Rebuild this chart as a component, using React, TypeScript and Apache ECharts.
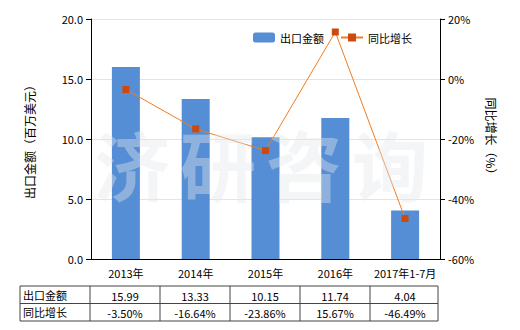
import React, { useEffect, useRef } from "react";
import * as echarts from "echarts";

const categories = ["2013年", "2014年", "2015年", "2016年", "2017年1-7月"];
const exportValues = [15.99, 13.33, 10.15, 11.74, 4.04];
const growthValues = [-3.5, -16.64, -23.86, 15.67, -46.49];
const seriesNames = ["出口金额", "同比增长"];
const leftAxisName = "出口金额（百万美元）";
const rightAxisName = "同比增长（%）";
const watermark = ["济", "研", "咨", "询"];

const FONT = "'Noto Sans CJK SC', 'Noto Sans', sans-serif";

export default function App() {
  const ref = useRef<HTMLDivElement>(null);
  useEffect(() => {
    if (!ref.current) return;
    const chart = echarts.init(ref.current, null, { renderer: "svg" });

    const gridLeft = 91;
    const gridRight = 440;
    const tableLeft = 20;
    const firstColRight = 90;
    const colW = (gridRight - firstColRight) / categories.length;
    const rowTop = 286;
    const rowH = 17.5;

    const tableEls: any[] = [];
    const stroke = { stroke: "#444", lineWidth: 1 };
    for (let r = 0; r <= 2; r++) {
      tableEls.push({
        type: "line",
        shape: { x1: tableLeft, y1: rowTop + r * rowH, x2: gridRight - 2, y2: rowTop + r * rowH },
        style: stroke,
      });
    }
    const vx = [tableLeft, firstColRight];
    for (let i = 1; i <= categories.length; i++) vx.push(Math.round(firstColRight + i * colW) - (i === categories.length ? 2 : 0));
    vx.forEach((x) =>
      tableEls.push({
        type: "line",
        shape: { x1: x, y1: rowTop, x2: x, y2: rowTop + 2 * rowH },
        style: stroke,
      })
    );
    const rows = [
      exportValues.map((v) => v.toFixed(2)),
      growthValues.map((v) => v.toFixed(2) + "%"),
    ];
    rows.forEach((row, r) => {
      const cy = rowTop + r * rowH + rowH / 2;
      tableEls.push({
        type: "text",
        x: tableLeft + 3,
        y: cy,
        style: { text: seriesNames[r], fill: "#000", font: `11px ${FONT}`, textVerticalAlign: "middle", verticalAlign: "middle" },
      });
      row.forEach((t, i) => {
        tableEls.push({
          type: "text",
          x: firstColRight + colW * (i + 0.5),
          y: cy + 1,
          style: { text: t, fill: "#000", font: `11px ${FONT}`, align: "center", verticalAlign: "middle", textAlign: "center", textVerticalAlign: "middle" },
        });
      });
    });

    const wmEls = watermark.map((ch, i) => ({
      type: "text",
      x: 132 + i * 86,
      y: 163,
      z: 100,
      style: {
        text: ch,
        fill: "rgba(228,230,234,0.4)",
        font: `bold 76px ${FONT}`,
        align: "center",
        verticalAlign: "middle",
        textAlign: "center",
        textVerticalAlign: "middle",
      },
    }));

    chart.setOption({
      animation: false,
      textStyle: { fontFamily: FONT },
      grid: { left: gridLeft, right: 520 - gridRight, top: 19, bottom: 71, containLabel: false },
      legend: {
        top: 27,
        left: 248,
        itemWidth: 22,
        itemHeight: 10,
        itemGap: 16,
        textStyle: { fontSize: 11, color: "#000", fontFamily: FONT },
        data: [
          { name: seriesNames[0] },
          { name: seriesNames[1] },
        ],
      },
      xAxis: {
        type: "category",
        data: categories,
        axisLine: { lineStyle: { color: "#000" } },
        axisTick: { alignWithLabel: true, lineStyle: { color: "#000" } },
        axisLabel: { color: "#000", fontSize: 11, margin: 8, interval: 0 },
      },
      yAxis: [
        {
          type: "value",
          min: 0,
          max: 20,
          interval: 5,
          name: leftAxisName,
          nameLocation: "middle",
          nameRotate: 90,
          nameGap: 56,
          nameTextStyle: { fontSize: 12, color: "#000" },
          axisLine: { show: true, lineStyle: { color: "#000" } },
          axisTick: { show: true, lineStyle: { color: "#000" } },
          axisLabel: { color: "#000", fontSize: 11, formatter: (v: number) => v.toFixed(1) },
          splitLine: { lineStyle: { color: "#e4e4e4" } },
        },
        {
          type: "value",
          min: -60,
          max: 20,
          interval: 20,
          name: rightAxisName,
          nameLocation: "middle",
          nameRotate: -90,
          nameGap: 45,
          nameTextStyle: { fontSize: 12, color: "#000" },
          axisLine: { show: true, lineStyle: { color: "#000" } },
          axisTick: { show: true, lineStyle: { color: "#000" } },
          axisLabel: { color: "#000", fontSize: 11, formatter: (v: number) => v + "%" },
          splitLine: { show: false },
        },
      ],
      series: [
        {
          name: seriesNames[0],
          type: "bar",
          data: exportValues,
          barWidth: 28,
          itemStyle: { color: "#558ed5" },
          yAxisIndex: 0,
        },
        {
          name: seriesNames[1],
          type: "line",
          data: growthValues,
          yAxisIndex: 1,
          symbol: "rect",
          symbolSize: 7,
          lineStyle: { color: "#ee7d22", width: 1 },
          itemStyle: { color: "#cc4a0e" },
        },
      ],
      graphic: [...wmEls, ...tableEls],
    });
    return () => chart.dispose();
  }, []);
  return (
    <div
      ref={ref}
      style={{ position: "fixed", left: 0, top: 0, width: 520, height: 330, background: "#fff" }}
    />
  );
}
